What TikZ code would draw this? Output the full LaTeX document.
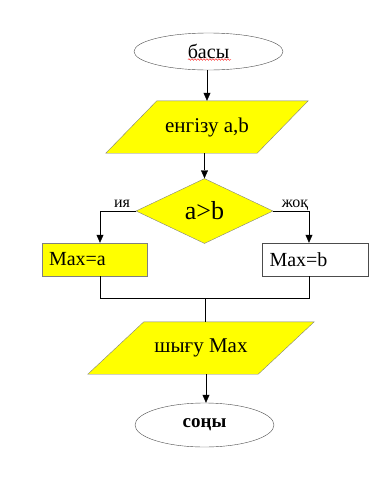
\documentclass[tikz,border=0pt]{standalone}
\usepackage{fontspec}
\setmainfont{Liberation Serif}
\usepackage{tikz}
\definecolor{blockfill}{RGB}{255, 255, 0}
\definecolor{blockline}{RGB}{128, 128, 128}
\usetikzlibrary{arrows.meta,shapes.geometric,decorations.pathmorphing,backgrounds}

\begin{document}
\begin{tikzpicture}[x=1pt, y=-1pt, >={Triangle[length=8pt,width=7pt]},
  every node/.style={font=\fontsize{20}{23}\selectfont},
  term/.style={draw=black!70, ellipse, inner sep=0pt},
  io/.style={minimum height=52pt, inner sep=0pt},
  iobox/.style={draw=blockline, fill=blockfill},
  action/.style={draw=black!70, minimum width=105pt, minimum height=33pt, text width=91pt, align=left, inner xsep=7pt, inner ysep=0pt},
  branch/.style={font=\fontsize{16}{18}\selectfont, anchor=base}]
  \useasboundingbox (0,0) rectangle (371,496);
  \node[term, minimum width=149pt, minimum height=37pt] (start) at (208.5,51.5) {басы};
  \draw[red, decorate, decoration={snake, amplitude=0.8pt, segment length=3pt}] (188,59.5) -- (231,59.5);
  \node[io, minimum width=151pt, font=\fontsize{21}{24}\selectfont] (inp) at (207,127) {енгізу a,b};
  \node[draw=blockline, fill=blockfill, diamond, aspect=2, minimum width=137pt, minimum height=65pt, inner sep=0pt, font=\fontsize{26}{29}\selectfont] (cond) at (204.5,211) {a>b};
  \node[action, fill=blockfill, draw=blockline] (maxa) at (94.5,259.5) {Max=a};
  \node[action, minimum width=106pt] (maxb) at (315,259.5) {Max=b};
  \node[io, minimum width=170pt, font=\fontsize{21}{24}\selectfont] (outp) at (201,348) {шығу Max};
  \node[term, minimum width=139pt, minimum height=44pt, font=\fontsize{19}{22}\selectfont\bfseries] (stop) at (204.5,425) {соңы};
  \node[branch] (yes) at (122,207) {ия};
  \node[branch] (no) at (295,207) {жоқ};
  % slanted input/output blocks behind their text
  \begin{scope}[on background layer]
    \draw[iobox] ([xshift=-25.5pt]inp.south west) -- ([xshift=25.5pt]inp.north west)
      -- ([xshift=25.5pt]inp.north east) -- ([xshift=-25.5pt]inp.south east) -- cycle;
    \draw[iobox] ([xshift=-28pt]outp.south west) -- ([xshift=28pt]outp.north west)
      -- ([xshift=28pt]outp.north east) -- ([xshift=-28pt]outp.south east) -- cycle;
  \end{scope}
  \coordinate (ja) at (100,298);
  \coordinate (jb) at (309,298);
  \coordinate (jm) at (205,298);
  \draw[->] (start.south -| 207,0) -- (inp.north -| 207,0);
  \draw[->] (inp.south -| cond.north) -- (cond.north);
  \draw[->] (cond.west) -| (maxa.north -| ja);
  \draw[->] (cond.east) -| (maxb.north -| jb);
  \draw (maxa.south -| ja) -- (ja) -- (jb) -- (maxb.south -| jb);
  \draw (jm) -- (outp.north -| jm);
  \draw[->] (outp.south -| 206,0) -- (stop.north -| 206,0);
\end{tikzpicture}
\end{document}
